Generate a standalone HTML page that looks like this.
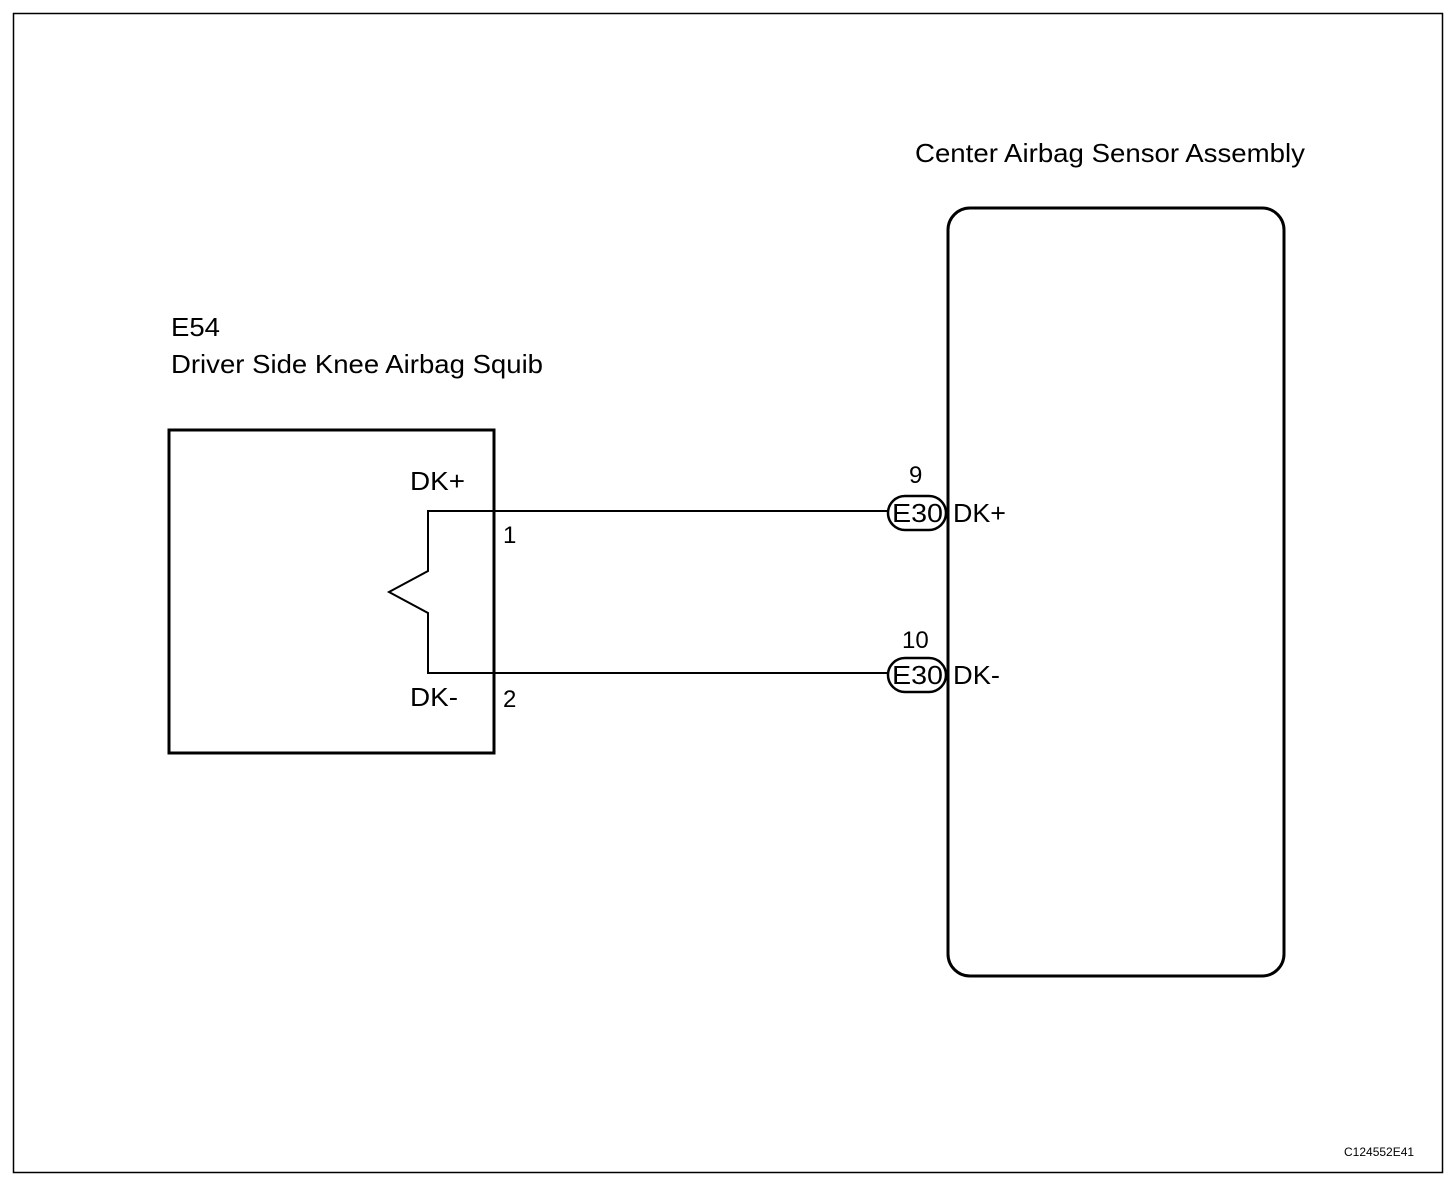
<!DOCTYPE html>
<html><head><style>body{margin:0;background:#fff}svg{display:block}text{font-family:"Liberation Sans",Arial,sans-serif;fill:#000}</style></head>
<body>
<svg width="1456" height="1186" viewBox="0 0 1456 1186">
<rect x="13.5" y="13.5" width="1429" height="1159" fill="none" stroke="#000" stroke-width="1.5"/>
<text x="915" y="162" font-size="26" textLength="390" lengthAdjust="spacingAndGlyphs">Center Airbag Sensor Assembly</text>
<rect x="948" y="208" width="336" height="768" rx="22" fill="none" stroke="#000" stroke-width="3"/>
<text x="171" y="336" font-size="26" textLength="49" lengthAdjust="spacingAndGlyphs">E54</text>
<text x="171" y="373" font-size="26" textLength="372" lengthAdjust="spacingAndGlyphs">Driver Side Knee Airbag Squib</text>
<rect x="169" y="430" width="325" height="323" fill="none" stroke="#000" stroke-width="3"/>
<text x="410" y="490" font-size="26" textLength="55" lengthAdjust="spacingAndGlyphs">DK+</text>
<text x="410" y="706" font-size="26" textLength="48" lengthAdjust="spacingAndGlyphs">DK-</text>
<text x="503" y="543" font-size="24">1</text>
<text x="503" y="707" font-size="24">2</text>
<polyline points="888,511 428,511 428,571 389,592 428,613 428,673 888,673" fill="none" stroke="#000" stroke-width="2"/>
<rect x="888" y="496" width="58" height="34" rx="17" fill="#fff" stroke="#000" stroke-width="2.5"/>
<rect x="888" y="658" width="58" height="34" rx="17" fill="#fff" stroke="#000" stroke-width="2.5"/>
<text x="892" y="522" font-size="26" textLength="51" lengthAdjust="spacingAndGlyphs">E30</text>
<text x="892" y="684" font-size="26" textLength="51" lengthAdjust="spacingAndGlyphs">E30</text>
<text x="953" y="522" font-size="26" textLength="53" lengthAdjust="spacingAndGlyphs">DK+</text>
<text x="953" y="684" font-size="26" textLength="47" lengthAdjust="spacingAndGlyphs">DK-</text>
<text x="909" y="483" font-size="24">9</text>
<text x="902" y="648" font-size="24">10</text>
<text x="1344" y="1156" font-size="12">C124552E41</text>
</svg>
</body></html>
